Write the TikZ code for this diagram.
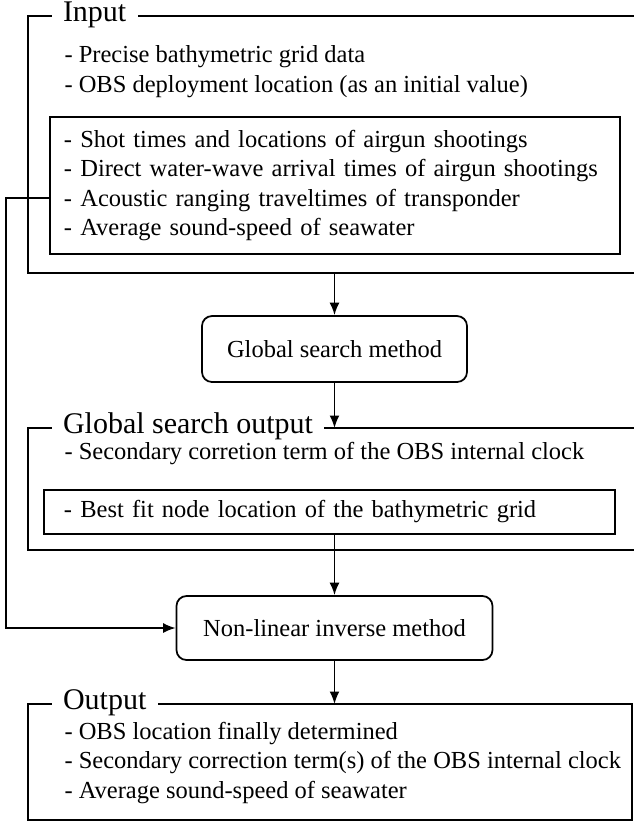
\documentclass[tikz,border=0pt]{standalone}
\usepackage{fontspec}
\setmainfont{Liberation Serif}
\usetikzlibrary{positioning}
\usetikzlibrary{arrows.meta}

\begin{document}
\begin{tikzpicture}[x=0.4pt, y=-0.4pt,
font=\fontsize{9.8}{11.8}\selectfont,
>={Latex[length=5pt,width=4pt]},
frameline/.style={line width=0.7pt},
titlenode/.style={fill=white, anchor=west, inner xsep=4.6pt, inner ysep=1pt, font=\fontsize{12}{14}\selectfont},
listnode/.style={anchor=west, align=left, inner sep=0pt},
roundnode/.style={rectangle, rounded corners=4pt, draw, line width=0.7pt},
squarednode/.style={rectangle, draw, line width=0.7pt, align=left},
]
\useasboundingbox (0,0) rectangle (634,822);
%Frames
\draw[frameline] (634,16) -- (28,16) -- (28,273) -- (634,273);
\draw[frameline] (634,428) -- (28,428) -- (28,550) -- (634,550);
\draw[frameline] (28,704) rectangle (632,820);
%Nodes
\node[titlenode]   (intitle)   at (51,15)   {Input};
\node[listnode]    (inlist)    at (64,71.5) {- Precise bathymetric grid data\\- OBS deployment location (as an initial value)};
\node[squarednode, minimum width=228pt, minimum height=54.8pt, text width=216.8pt, inner xsep=5.6pt]
                   (shots)     at (335,185.5) {- Shot times and locations of airgun shootings\\- Direct water-wave arrival times of airgun shootings\\- Acoustic ranging traveltimes of transponder\\- Average sound-speed of seawater};
\node[roundnode, minimum width=106pt, minimum height=26.4pt]
                   (global)    at (334.5,349) {Global search method};
\node[titlenode]   (gstitle)   at (51,426)  {Global search output};
\node[listnode]    (gslist)    at (64,454)  {- Secondary corretion term of the OBS internal clock};
\node[squarednode, minimum width=228.4pt, minimum height=17.6pt, text width=212.4pt, inner xsep=8pt]
                   (bestfit)   at (329.5,512) {- Best fit node location of the bathymetric grid};
\node[roundnode, minimum width=126.4pt, minimum height=25.6pt]
                   (nonlin)    at (334.5,628) {Non-linear inverse method};
\node[titlenode]   (outtitle)  at (51,703)  {Output};
\node[listnode]    (outlist)   at (64,763)  {- OBS location finally determined\\- Secondary correction term(s) of the OBS internal clock\\- Average sound-speed of seawater};
\coordinate (inbottom) at (334.5,273);
\coordinate (gstop)    at (334.5,428);
\coordinate (outtop)   at (334.5,704);
\coordinate (feed)     at (50,198);
%Lines
\draw[->, frameline] (inbottom) -- (global.north);
\draw[->, frameline] (global.south) -- (gstop);
\draw[->, frameline] (nonlin.north |- bestfit.south) -- (nonlin.north);
\draw[->, frameline] (nonlin.south) -- (outtop);
\draw[->, frameline] (feed) -- ++(-44,0) |- (nonlin.west);
\end{tikzpicture}
\end{document}
